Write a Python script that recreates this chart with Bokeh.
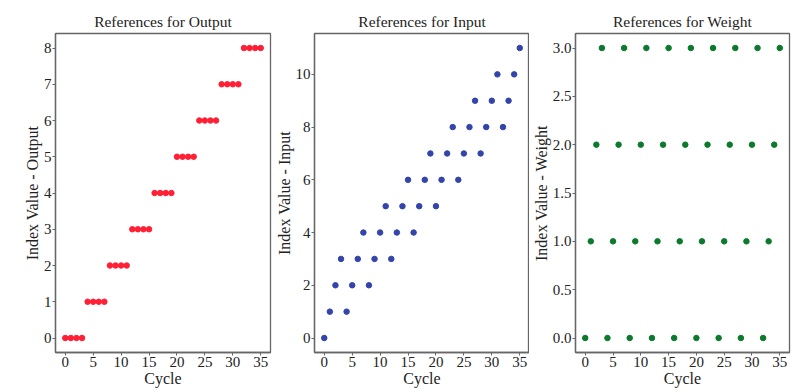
from bokeh.plotting import figure
from bokeh.layouts import row
from bokeh.models import FixedTicker, Range1d, PrintfTickFormatter
from bokeh.embed import file_html
from bokeh.resources import INLINE

cycle = list(range(36))
output_idx = [0, 0, 0, 0, 1, 1, 1, 1, 2, 2, 2, 2, 3, 3, 3, 3, 4, 4, 4, 4,
              5, 5, 5, 5, 6, 6, 6, 6, 7, 7, 7, 7, 8, 8, 8, 8]
input_idx = [0, 1, 2, 3, 1, 2, 3, 4, 2, 3, 4, 5, 3, 4, 5, 6, 4, 5, 6, 7,
             5, 6, 7, 8, 6, 7, 8, 9, 7, 8, 9, 10, 8, 9, 10, 11]
weight_idx = [0, 1, 2, 3, 0, 1, 2, 3, 0, 1, 2, 3, 0, 1, 2, 3, 0, 1, 2, 3,
              0, 1, 2, 3, 0, 1, 2, 3, 0, 1, 2, 3, 0, 1, 2, 3]
x_ticks = [0, 5, 10, 15, 20, 25, 30, 35]
out_ticks = [0, 1, 2, 3, 4, 5, 6, 7, 8]
in_ticks = [0, 2, 4, 6, 8, 10]
w_ticks = [0, 0.5, 1.0, 1.5, 2.0, 2.5, 3.0]

FONT = "Liberation Serif"
TXT = "#222222"


def make(title, ylabel, ys, color, yticks, ymin, ymax, left, right, fmt=None):
    p = figure(width=left + 215 + right, height=390, output_backend="svg",
               toolbar_location=None,
               title=title, x_range=Range1d(-1.75, 36.75), y_range=Range1d(ymin, ymax),
               min_border_left=left, min_border_right=right, min_border_top=33,
               min_border_bottom=38)
    p.scatter(cycle, ys, size=5.5, color=color, line_color=color)
    p.grid.visible = False
    p.outline_line_color = "#666666"
    p.outline_line_width = 1.3
    p.title.text_font = FONT
    p.title.text_font_size = "15.5px"
    p.title.text_font_style = "normal"
    p.title.text_color = TXT
    p.title.align = "center"
    p.title.standoff = 7
    p.title.offset = 0
    p.xaxis.ticker = FixedTicker(ticks=x_ticks)
    p.yaxis.ticker = FixedTicker(ticks=yticks)
    if fmt:
        p.yaxis.formatter = PrintfTickFormatter(format=fmt)
    p.xaxis.axis_label = "Cycle"
    p.yaxis.axis_label = ylabel
    for ax in (p.xaxis, p.yaxis):
        ax.axis_label_text_font = FONT
        ax.axis_label_text_font_size = "16px"
        ax.axis_label_text_font_style = "normal"
        ax.axis_label_text_color = TXT
        ax.axis_label_standoff = 0
        ax.major_label_text_font = FONT
        ax.major_label_text_font_size = "15px"
        ax.major_label_text_color = TXT
        ax.axis_line_color = "#666666"
        ax.axis_line_width = 1.3
        ax.major_tick_line_color = "#666666"
        ax.major_tick_out = 3
        ax.major_tick_in = 0
        ax.minor_tick_line_color = None
        ax.major_label_standoff = 1
    return p


p1 = make("References for Output", "Index Value - Output", output_idx, "#ff2035",
          out_ticks, -0.4, 8.4, 55, 2)
p2 = make("References for Input", "Index Value - Input", input_idx, "#3344aa",
          in_ticks, -0.55, 11.55, 42, 0)
p3 = make("References for Weight", "Index Value - Weight", weight_idx, "#0c7a2c",
          w_ticks, -0.15, 3.15, 45, 4, fmt="%.1f")

layout = row(p1, p2, p3)
open("out.html", "w").write(file_html(layout, INLINE))
